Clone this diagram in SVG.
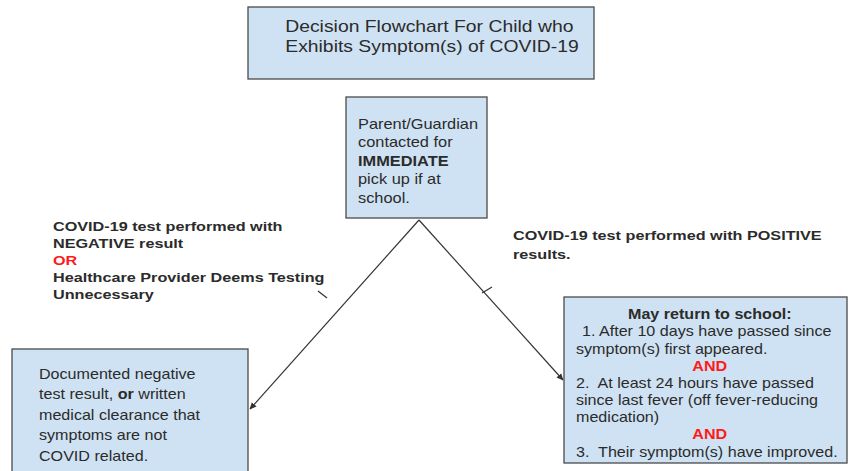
<svg xmlns="http://www.w3.org/2000/svg" width="849" height="471" viewBox="0 0 849 471">
  <style>
    .box { fill: #cfe2f3; stroke: #4a4a4a; stroke-width: 1.3; }
    .txt { font-family: "Liberation Sans", Arial, sans-serif; fill: #2b2b2b; }
    .b { font-weight: bold; }
    .red { fill: #ff1a1a; font-weight: bold; }
    .conn { stroke: #333; stroke-width: 1.2; fill: none; }
  </style>
  <defs>
    <marker id="arrow" viewBox="0 0 10 10" refX="9" refY="5" markerWidth="7" markerHeight="7" orient="auto" markerUnits="userSpaceOnUse">
      <path d="M0,0.5 L10,5 L0,9.5 Z" fill="#333"/>
    </marker>
  </defs>
  <rect width="849" height="471" fill="#ffffff"/>

  <g id="connectors">
    <line class="conn" x1="419" y1="220" x2="250" y2="409" marker-end="url(#arrow)"/>
    <line class="conn" x1="419" y1="220" x2="563" y2="380" marker-end="url(#arrow)"/>
    <line class="conn" x1="318" y1="291" x2="327" y2="298"/>
    <line class="conn" x1="482" y1="293" x2="492" y2="287"/>
  </g>

  <g id="title">
    <rect class="box" x="248" y="7" width="346" height="72"/>
    <text class="txt" font-size="16" text-anchor="middle" transform="translate(432,0) scale(1.21,1)">
      <tspan x="0" y="32">Decision Flowchart For Child who</tspan>
      <tspan x="0" y="52">Exhibits Symptom(s) of COVID-19</tspan>
    </text>
  </g>

  <g id="parent">
    <rect class="box" x="346" y="97" width="141" height="121"/>
    <text class="txt" font-size="14" transform="translate(358,0) scale(1.17,1)">
      <tspan x="0" y="129">Parent/Guardian</tspan>
      <tspan x="0" y="147.5">contacted for</tspan>
      <tspan x="0" y="166" class="b">IMMEDIATE</tspan>
      <tspan x="0" y="184.5">pick up if at</tspan>
      <tspan x="0" y="203">school.</tspan>
    </text>
  </g>

  <g id="label-negative">
    <text class="txt b" font-size="13.5" transform="translate(53,0) scale(1.2,1)">
      <tspan x="0" y="231">COVID-19 test performed with</tspan>
      <tspan x="0" y="248">NEGATIVE result</tspan>
      <tspan x="0" y="265" class="red">OR</tspan>
      <tspan x="0" y="282">Healthcare Provider Deems Testing</tspan>
      <tspan x="0" y="299">Unnecessary</tspan>
    </text>
  </g>

  <g id="label-positive">
    <text class="txt b" font-size="13.5" transform="translate(513,0) scale(1.2,1)">
      <tspan x="0" y="240">COVID-19 test performed with POSITIVE</tspan>
      <tspan x="0" y="259">results.</tspan>
    </text>
  </g>

  <g id="negative-box">
    <rect class="box" x="12" y="349" width="236" height="140"/>
    <text class="txt" font-size="14" transform="translate(39,0) scale(1.15,1)">
      <tspan x="0" y="379">Documented negative</tspan>
      <tspan x="0" y="399.5">test result, <tspan class="b">or</tspan> written</tspan>
      <tspan x="0" y="420">medical clearance that</tspan>
      <tspan x="0" y="440.5">symptoms are not</tspan>
      <tspan x="0" y="461">COVID related.</tspan>
    </text>
  </g>

  <g id="positive-box">
    <rect class="box" x="564" y="297" width="283" height="166"/>
    <text class="txt" font-size="14" transform="translate(576,0) scale(1.15,1)">
      <tspan x="118.3" y="319" text-anchor="middle" class="b">May return to school:</tspan>
      <tspan x="5.2" y="336.5">1. After 10 days have passed since</tspan>
      <tspan x="0" y="354">symptom(s) first appeared.</tspan>
      <tspan x="118.3" y="371" text-anchor="middle" class="red">AND</tspan>
      <tspan x="0" y="388.5">2.&#160; At least 24 hours have passed</tspan>
      <tspan x="0" y="405.5">since last fever (off fever-reducing</tspan>
      <tspan x="0" y="422.5">medication)</tspan>
      <tspan x="118.3" y="439.5" text-anchor="middle" class="red">AND</tspan>
      <tspan x="0" y="456.7">3.&#160; Their symptom(s) have improved.</tspan>
    </text>
  </g>
</svg>
